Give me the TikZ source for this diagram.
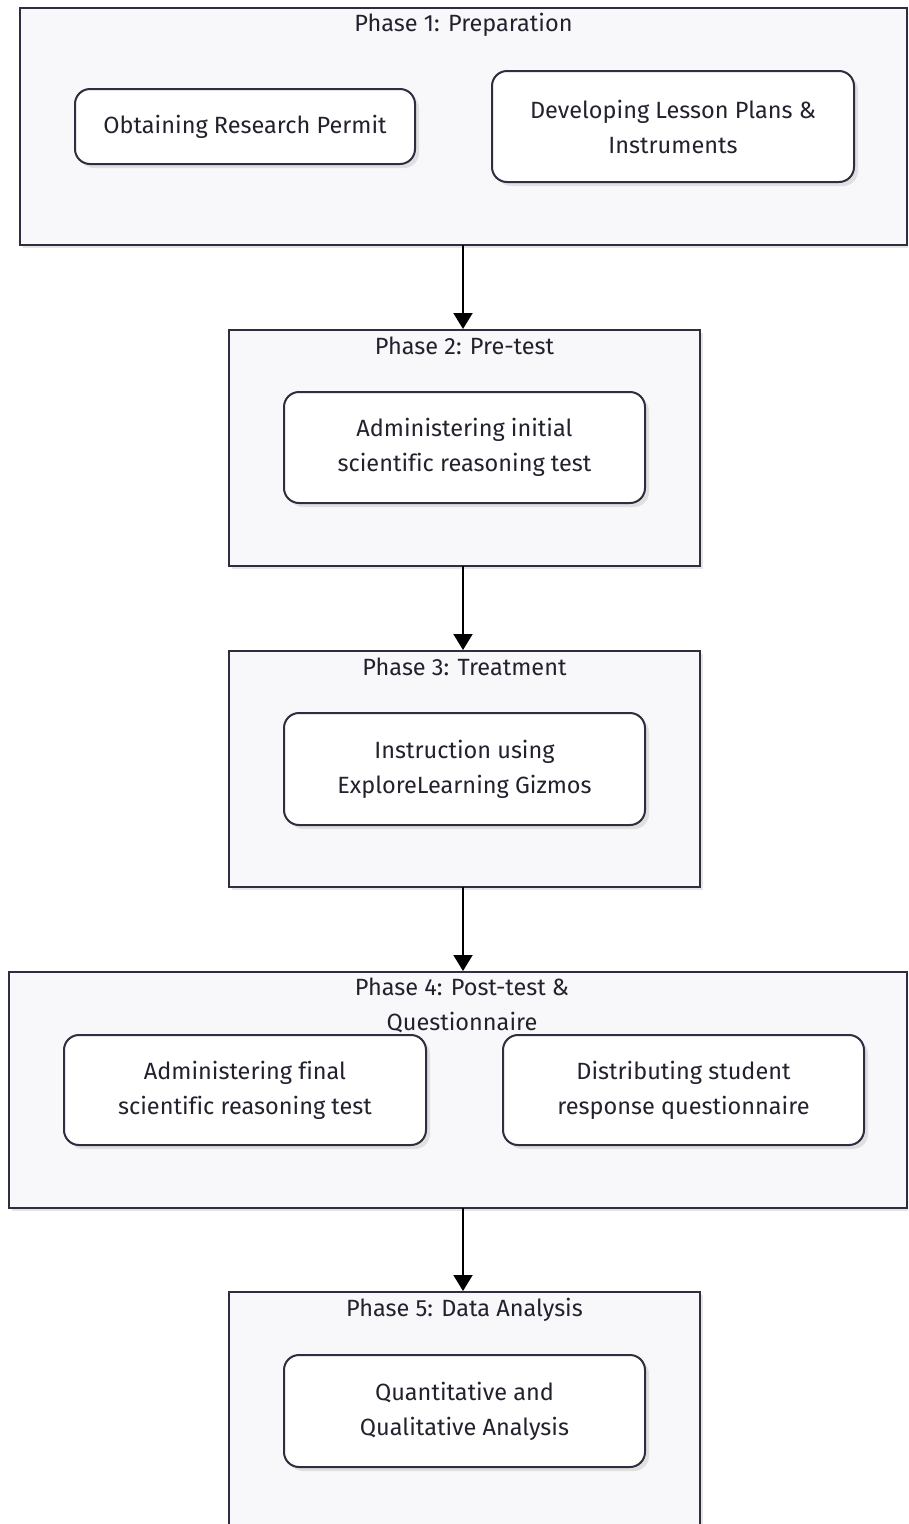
\documentclass[tikz,border=0pt]{standalone}
\usepackage{fontspec}
\setmainfont{Fira Sans}[Ligatures={NoCommon}]
\usetikzlibrary{arrows.meta,shadows}
\definecolor{edge}{HTML}{2E2E40}
\definecolor{clfill}{HTML}{F8F8FA}
\definecolor{txt}{HTML}{22222E}
\tikzset{
  cluster/.style={draw=edge, line width=2pt, fill=clfill, inner sep=0pt,
    drop shadow={shadow xshift=3pt, shadow yshift=-3pt, fill=black!10, opacity=1}},
  stepbox/.style={draw=edge, line width=2pt, fill=white, rounded corners=15pt,
    inner sep=0pt, align=center, text=txt,
    font=\fontsize{23.5}{35}\selectfont,
    drop shadow={shadow xshift=4pt, shadow yshift=-4pt, fill=black!12, opacity=1}},
  title/.style={text=txt, align=center, font=\fontsize{23.5}{35}\selectfont, inner sep=0pt},
  flow/.style={line width=2pt, draw=black, -{Triangle[length=16pt,width=19pt]}}
}
\begin{document}
\begin{tikzpicture}[x=1pt,y=-1pt]
\useasboundingbox (0,0) rectangle (908,1524);
\clip (0,0) rectangle (908,1524);
\fill[white] (0,0) rectangle (908,1524);
% Phase 1
\node[cluster, minimum width=887pt, minimum height=237pt] (p1) at (463.5,126.5) {};
\node[title] (t1) at (463.5,25) {Phase 1: Preparation};
\node[stepbox, minimum width=340pt, minimum height=75pt] (a1) at (245,126.5) {Obtaining Research Permit};
\node[stepbox, minimum width=362pt, minimum height=111pt] (a2) at (673,126.5) {Developing Lesson Plans \&\\Instruments};
% Phase 2
\node[cluster, minimum width=471pt, minimum height=236pt] (p2) at (464.5,448) {};
\node[title] (t2) at (464.5,346) {Phase 2: Pre-test};
\node[stepbox, minimum width=361pt, minimum height=111pt] (b1) at (464.5,447.5) {Administering initial\\scientific reasoning test};
% Phase 3
\node[cluster, minimum width=471pt, minimum height=236pt] (p3) at (464.5,769) {};
\node[title] (t3) at (464.5,667) {Phase 3: Treatment};
\node[stepbox, minimum width=361pt, minimum height=112pt] (c1) at (464.5,769) {Instruction using\\ExploreLearning Gizmos};
% Phase 4
\node[cluster, minimum width=898pt, minimum height=236pt] (p4) at (458,1090) {};
\node[title] (t4) at (462,1005.5) {Phase 4: Post-test \&\\Questionnaire};
\node[stepbox, minimum width=362pt, minimum height=110pt] (d1) at (245,1090) {Administering final\\scientific reasoning test};
\node[stepbox, minimum width=361pt, minimum height=110pt] (d2) at (683.5,1090) {Distributing student\\response questionnaire};
% Phase 5
\node[cluster, minimum width=471pt, minimum height=268pt] (p5) at (464.5,1426) {};
\node[title] (t5) at (464.5,1310) {Phase 5: Data Analysis};
\node[stepbox, minimum width=361pt, minimum height=112pt] (e1) at (464.5,1411) {Quantitative and\\Qualitative Analysis};
% connectors
\draw[flow] (463,245) coordinate (s1) -- (s1 |- p2.north);
\draw[flow] (463,566) coordinate (s2) -- (s2 |- p3.north);
\draw[flow] (463,887) coordinate (s3) -- (s3 |- p4.north);
\draw[flow] (463,1208) coordinate (s4) -- (s4 |- p5.north);
\end{tikzpicture}
\end{document}
